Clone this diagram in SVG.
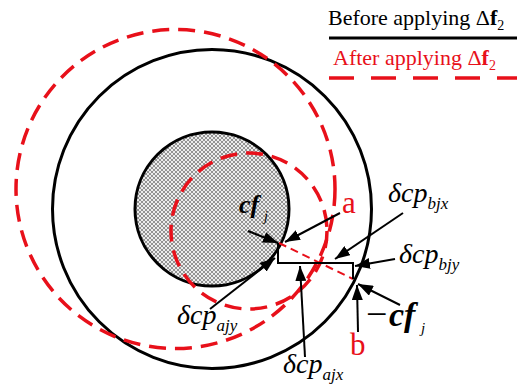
<svg xmlns="http://www.w3.org/2000/svg" width="517" height="387" viewBox="0 0 517 387">
<style>
.blk{fill:none;stroke:#000;stroke-width:3}
.red{fill:none;stroke:#e8101a;stroke-width:3.5;stroke-dasharray:17 9}
.arr{fill:none;stroke:#000;stroke-width:2;marker-end:url(#ah)}
.t{font-family:"Liberation Serif","Times New Roman",serif;fill:#000}
.it{font-style:italic}
.bi{font-style:italic;font-weight:bold}
.rt{fill:#e8101a}
</style>
<defs>
<pattern id="hatch" width="4" height="4" patternUnits="userSpaceOnUse">
<rect width="4" height="4" fill="#ececec"/>
<path d="M0,0 L4,4 M4,0 L0,4" stroke="#939393" stroke-width="1"/>
</pattern>
<marker id="ah" markerUnits="userSpaceOnUse" markerWidth="15" markerHeight="11" refX="15" refY="5.5" orient="auto">
<path d="M0,0 L15,5.5 L0,11 z" fill="#000"/>
</marker>
</defs>
<g id="legend">
<text class="t" x="328" y="25" font-size="22">Before applying Δ<tspan font-weight="bold">f</tspan><tspan font-size="14" dy="5">2</tspan></text>
<line x1="329" y1="38" x2="517" y2="38" stroke="#000" stroke-width="3"/>
<text class="t rt" x="333" y="65" font-size="22">After applying Δ<tspan font-weight="bold">f</tspan><tspan font-size="14" dy="5">2</tspan></text>
<line x1="329" y1="78" x2="517" y2="78" stroke="#e8101a" stroke-width="3.5" stroke-dasharray="25 17"/>
</g>
<g id="inner-body">
<circle cx="212" cy="209" r="77" fill="url(#hatch)" stroke="#000" stroke-width="3"/>
</g>
<g id="outer-body">
<circle cx="212" cy="209" r="159.5" class="blk"/>
</g>
<g id="inner-body-after">
<circle cx="249" cy="231" r="78" class="red"/>
</g>
<g id="outer-body-after">
<circle cx="175.5" cy="189" r="159.5" class="red"/>
</g>
<g id="connectors">
<line x1="279" y1="243" x2="353" y2="279" stroke="#e8101a" stroke-width="2" stroke-dasharray="8 5"/>
<path d="M278,243 V263 H353 V279" fill="none" stroke="#000" stroke-width="2"/>
<line class="arr" x1="248" y1="231" x2="278" y2="243"/>
<line class="arr" x1="340" y1="213" x2="285" y2="242"/>
<line class="arr" x1="403" y1="213" x2="335" y2="259"/>
<line class="arr" x1="395" y1="259" x2="355" y2="266"/>
<line class="arr" x1="400" y1="305" x2="358" y2="284"/>
<line class="arr" x1="358" y1="332" x2="357" y2="285"/>
<line class="arr" x1="305" y1="357" x2="300" y2="266"/>
<line class="arr" x1="210" y1="309" x2="275" y2="258"/>
</g>
<g id="labels">
<text class="t bi" x="239" y="213" font-size="26">cf</text>
<text class="t it" x="264" y="221" font-size="14">j</text>
<text class="t rt" x="342" y="213" font-size="31">a</text>
<text class="t it" x="388" y="202" font-size="28">δcp<tspan font-size="17" dy="7">bjx</tspan></text>
<text class="t it" x="399" y="263" font-size="28">δcp<tspan font-size="17" dy="7">bjy</tspan></text>
<text class="t" x="366" y="327" font-size="38">−</text>
<text class="t bi" x="389" y="326" font-size="34">cf</text>
<text class="t it" x="421" y="333" font-size="15">j</text>
<text class="t rt" x="350" y="355" font-size="31">b</text>
<text class="t it" x="177" y="324" font-size="28">δcp<tspan font-size="17" dy="7">ajy</tspan></text>
<text class="t it" x="283" y="373" font-size="28">δcp<tspan font-size="17" dy="7">ajx</tspan></text>
</g>
</svg>
